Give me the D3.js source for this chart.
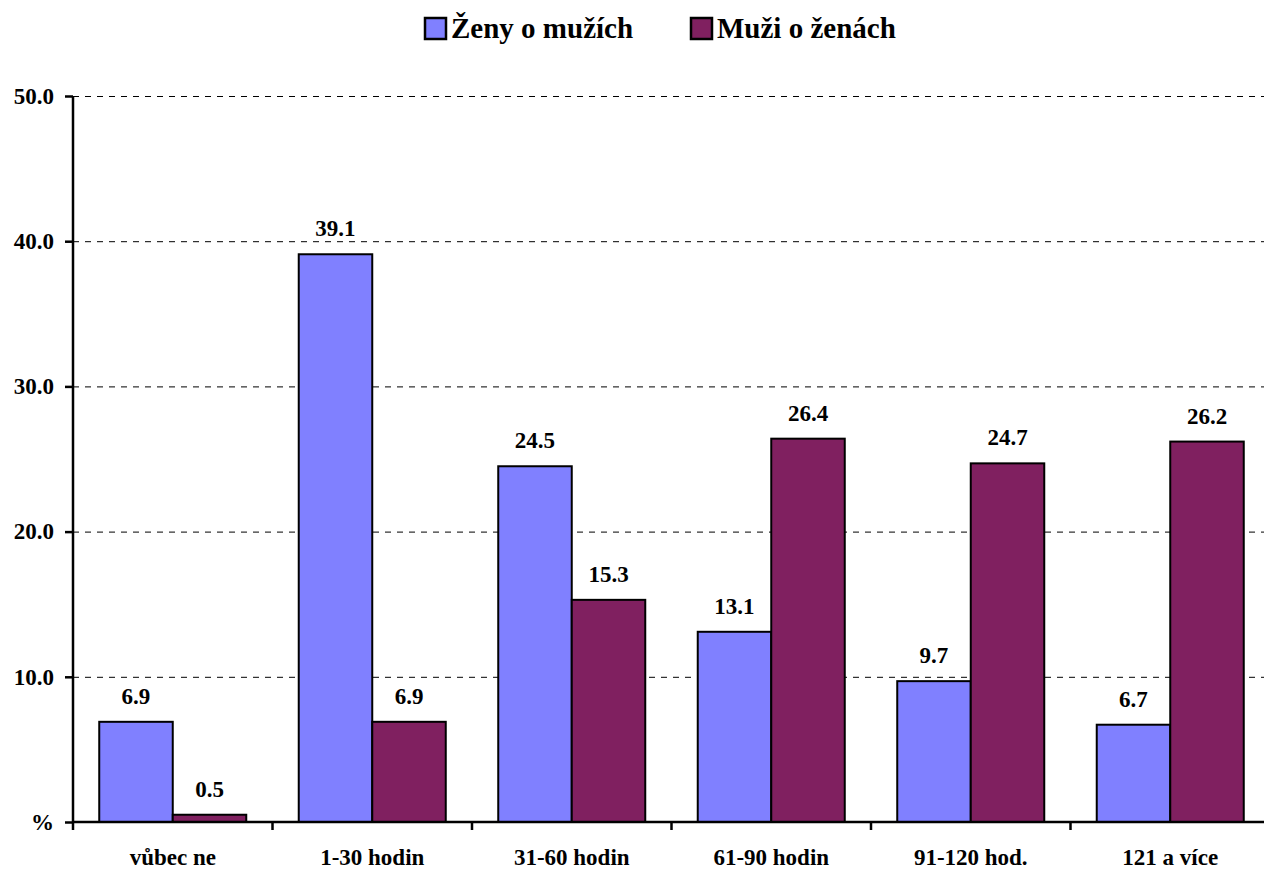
<!DOCTYPE html>
<html>
<head>
<meta charset="utf-8">
<script src="https://cdn.jsdelivr.net/npm/d3@7"></script>
</head>
<body style="margin:0; background:#fff">
<svg id="chart" width="1264" height="873"></svg>
<script>
let categories = ['vůbec ne', '1-30 hodin', '31-60 hodin', '61-90 hodin', '91-120 hod.', '121 a více']
let seriesNames = ['Ženy o mužích', 'Muži o ženách']
let zeny = [6.9, 39.1, 24.5, 13.1, 9.7, 6.7]
let muzi = [0.5, 6.9, 15.3, 26.4, 24.7, 26.2]
let colors = ['#8080ff', '#802060']
let yTicks = [0, 10, 20, 30, 40, 50]

let font = 'Liberation Serif'
let margin = {top: 96, left: 73, bottom: 51}
let width = 1264, height = 873
let plotRight = 1270

const svg = d3.select('#chart')
  .attr('font-family', font)
  .attr('font-weight', 'bold')

let x = d3.scaleBand().domain(categories).range([margin.left, plotRight]).paddingInner(0).paddingOuter(0)
let x1 = d3.scaleBand().domain(seriesNames).range([0, x.bandwidth()]).paddingOuter(0.357).paddingInner(0)
let y = d3.scaleLinear().domain([0, 50]).range([height - margin.bottom, margin.top])

// grid lines
svg.append('g')
  .selectAll('line')
  .data(yTicks.filter(d => d > 0))
  .join('line')
    .attr('x1', margin.left)
    .attr('x2', width)
    .attr('y1', d => y(d) + 0.5)
    .attr('y2', d => y(d) + 0.5)
    .attr('stroke', '#000')
    .attr('stroke-width', 1)
    .attr('stroke-dasharray', '6,6')

// bars
let rows = categories.map((c, i) => ({cat: c, values: [zeny[i], muzi[i]]}))
const group = svg.append('g')
  .selectAll('g')
  .data(rows)
  .join('g')
    .attr('transform', d => `translate(${x(d.cat)},0)`)

group.selectAll('rect')
  .data(d => d.values.map((v, j) => ({name: seriesNames[j], v: v, j: j})))
  .join('rect')
    .attr('x', d => x1(d.name))
    .attr('y', d => y(d.v))
    .attr('width', x1.bandwidth())
    .attr('height', d => y(0) - y(d.v))
    .attr('fill', d => colors[d.j])
    .attr('stroke', '#000')
    .attr('stroke-width', 2)

group.selectAll('text')
  .data(d => d.values.map((v, j) => ({name: seriesNames[j], v: v, j: j})))
  .join('text')
    .attr('x', d => x1(d.name) + x1.bandwidth() / 2)
    .attr('y', d => y(d.v) - 18)
    .attr('text-anchor', 'middle')
    .attr('font-size', 23)
    .attr('fill', '#000')
    .text(d => d.v.toFixed(1))

// y axis
const yAxis = svg.append('g')
  .attr('transform', `translate(${margin.left},0)`)
  .call(d3.axisLeft(y).tickValues(yTicks).tickSize(8).tickPadding(10)
    .tickFormat(d => d === 0 ? '%' : d.toFixed(1)))
yAxis.attr('font-family', font).attr('font-size', 23)
yAxis.select('.domain').attr('stroke-width', 2.5).attr('d', `M0,${y(0)}V${y(50)}`)
yAxis.selectAll('.tick line').attr('stroke-width', 2.5)
yAxis.selectAll('.tick text').attr('x', -19)

// x axis
const xAxis = svg.append('g')
  .attr('transform', `translate(0,${y(0)})`)
  .call(d3.axisBottom(x).tickSize(0).tickPadding(27))
xAxis.attr('font-family', font).attr('font-size', 23)
xAxis.select('.domain').attr('stroke-width', 2.5).attr('d', `M${margin.left},0H${plotRight}`)

// x separator ticks at group boundaries
xAxis.append('g')
  .selectAll('line')
  .data(categories)
  .join('line')
    .attr('x1', d => x(d))
    .attr('x2', d => x(d))
    .attr('y1', 0)
    .attr('y2', 8)
    .attr('stroke', '#000')
    .attr('stroke-width', 2.5)

// legend
const legend = svg.append('g')
const legendX = [425, 691]
seriesNames.forEach((name, j) => {
  const item = legend.append('g').attr('transform', `translate(${legendX[j]},18)`)
  item.append('rect')
    .attr('width', 21)
    .attr('height', 21)
    .attr('fill', colors[j])
    .attr('stroke', '#000')
    .attr('stroke-width', 2.5)
  item.append('text')
    .attr('x', 26)
    .attr('y', 20)
    .attr('font-size', 29)
    .attr('fill', '#000')
    .text(name)
})
</script>
</body>
</html>
